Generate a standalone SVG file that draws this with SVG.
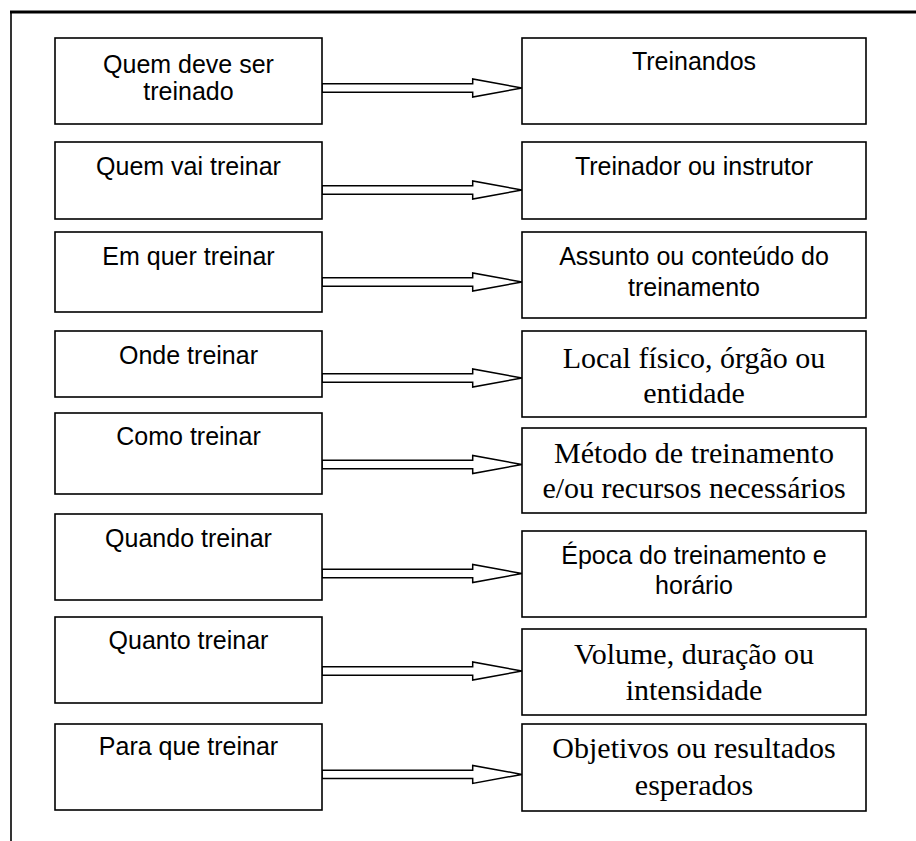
<svg xmlns="http://www.w3.org/2000/svg" width="916" height="841" viewBox="0 0 916 841">
<style>
.box{fill:#fff;stroke:#000;stroke-width:1.6}
.arr{fill:#fff;stroke:#000;stroke-width:1.5;stroke-linejoin:miter}
.s{font-family:"Liberation Sans",Arial,sans-serif;font-size:25px;fill:#000;text-anchor:middle}
.t{font-family:"Liberation Serif","Times New Roman",serif;font-size:30px;fill:#000;text-anchor:middle}
</style>
<rect width="916" height="841" fill="#fff"/>
<g id="frame">
<line x1="10" y1="12" x2="916" y2="12" stroke="#000" stroke-width="3"/>
<line x1="11" y1="12" x2="11" y2="841" stroke="#000" stroke-width="1.6"/>
</g>
<g id="connectors">
<polygon class="arr" points="322,83.8 472.7,83.8 472.7,79 522,88 472.7,97 472.7,92.2 322,92.2"/>
<polygon class="arr" points="322,185.8 472.7,185.8 472.7,181 522,190 472.7,199 472.7,194.2 322,194.2"/>
<polygon class="arr" points="322,277.8 472.7,277.8 472.7,273 522,282 472.7,291 472.7,286.2 322,286.2"/>
<polygon class="arr" points="322,373.8 472.7,373.8 472.7,369 522,378 472.7,387 472.7,382.2 322,382.2"/>
<polygon class="arr" points="322,460.3 472.7,460.3 472.7,455.5 522,464.5 472.7,473.5 472.7,468.7 322,468.7"/>
<polygon class="arr" points="322,569.3 472.7,569.3 472.7,564.5 522,573.5 472.7,582.5 472.7,577.7 322,577.7"/>
<polygon class="arr" points="322,666.8 472.7,666.8 472.7,662 522,671 472.7,680 472.7,675.2 322,675.2"/>
<polygon class="arr" points="322,770.2 472.7,770.2 472.7,765.4 522,774.4 472.7,783.4 472.7,778.6 322,778.6"/>
</g>
<g id="l1"><rect class="box" x="55" y="38" width="267" height="86"/><text class="s" x="188.5" y="73">Quem deve ser</text><text class="s" x="188.5" y="100">treinado</text></g>
<g id="l2"><rect class="box" x="55" y="142" width="267" height="77"/><text class="s" x="188.5" y="175">Quem vai treinar</text></g>
<g id="l3"><rect class="box" x="55" y="232" width="267" height="80"/><text class="s" x="188.5" y="265">Em quer treinar</text></g>
<g id="l4"><rect class="box" x="55" y="331" width="267" height="66"/><text class="s" x="188.5" y="364">Onde treinar</text></g>
<g id="l5"><rect class="box" x="55" y="413" width="267" height="81"/><text class="s" x="188.5" y="445">Como treinar</text></g>
<g id="l6"><rect class="box" x="55" y="514" width="267" height="86"/><text class="s" x="188.5" y="547">Quando treinar</text></g>
<g id="l7"><rect class="box" x="55" y="617" width="267" height="86"/><text class="s" x="188.5" y="649">Quanto treinar</text></g>
<g id="l8"><rect class="box" x="55" y="724" width="267" height="86"/><text class="s" x="188.5" y="755">Para que treinar</text></g>
<g id="r1"><rect class="box" x="522" y="38" width="344" height="86"/><text class="s" x="694" y="70">Treinandos</text></g>
<g id="r2"><rect class="box" x="522" y="142" width="344" height="77"/><text class="s" x="694" y="175">Treinador ou instrutor</text></g>
<g id="r3"><rect class="box" x="522" y="232" width="344" height="86"/><text class="s" x="694" y="265">Assunto ou conteúdo do</text><text class="s" x="694" y="296">treinamento</text></g>
<g id="r4"><rect class="box" x="522" y="331" width="344" height="86"/><text class="t" x="694" y="367.5">Local físico, órgão ou</text><text class="t" x="694" y="402.7">entidade</text></g>
<g id="r5"><rect class="box" x="522" y="428" width="344" height="85"/><text class="t" x="694" y="463.3">Método de treinamento</text><text class="t" x="694" y="498.3">e/ou recursos necessários</text></g>
<g id="r6"><rect class="box" x="522" y="531" width="344" height="86"/><text class="s" x="694" y="564">Época do treinamento e</text><text class="s" x="694" y="594">horário</text></g>
<g id="r7"><rect class="box" x="522" y="629" width="344" height="86"/><text class="t" x="694" y="664">Volume, duração ou</text><text class="t" x="694" y="700">intensidade</text></g>
<g id="r8"><rect class="box" x="522" y="724" width="344" height="87"/><text class="t" x="694" y="758.3">Objetivos ou resultados</text><text class="t" x="694" y="795">esperados</text></g>
</svg>
